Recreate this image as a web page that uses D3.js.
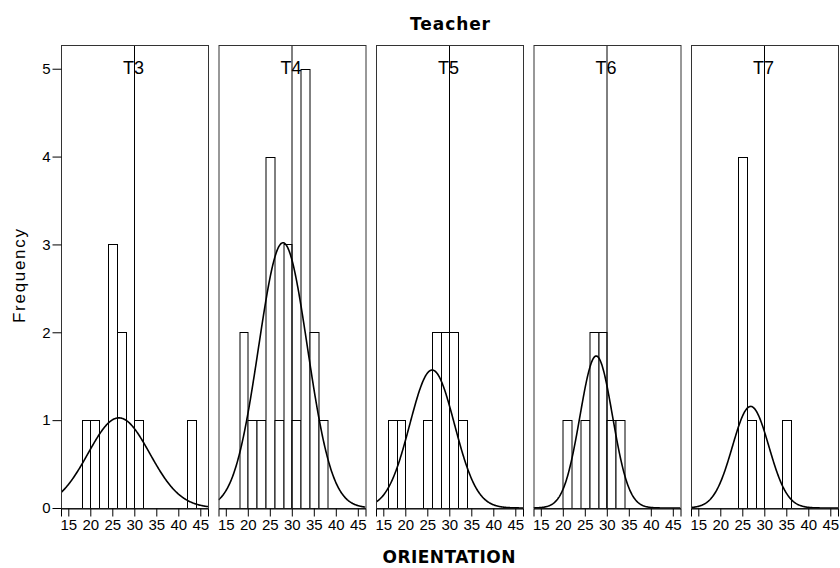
<!DOCTYPE html>
<html>
<head>
<meta charset="utf-8">
<script src="https://cdn.jsdelivr.net/npm/d3@7"></script>
<style>
  html, body { margin: 0; padding: 0; background: #fff; }
  svg { display: block; }
  text { font-family: "Liberation Sans", Arial, sans-serif; fill: #000; }
</style>
</head>
<body>
<svg id="chart" width="840" height="568"></svg>
<script>
// Panels (one per teacher) and the histogram bins (width 2) of ORIENTATION
const teachers = ["T3", "T4", "T5", "T6", "T7"];
const binStarts = [16, 18, 20, 22, 24, 26, 28, 30, 32, 34, 36, 38, 40, 42];
const binWidth = 2;

// Frequencies per bin for each teacher
const countsT3 = [0, 1, 1, 0, 3, 2, 0, 1, 0, 0, 0, 0, 0, 1];
const countsT4 = [0, 2, 1, 1, 4, 1, 3, 1, 5, 2, 1, 0, 0, 0];
const countsT5 = [1, 1, 0, 0, 1, 2, 2, 2, 1, 0, 0, 0, 0, 0];
const countsT6 = [0, 0, 1, 0, 1, 2, 2, 1, 1, 0, 0, 0, 0, 0];
const countsT7 = [0, 0, 0, 0, 4, 1, 0, 0, 0, 1, 0, 0, 0, 0];
const countsByTeacher = [countsT3, countsT4, countsT5, countsT6, countsT7];

// Fitted normal curve parameters per teacher
const means = [26.5, 28.0, 26.1, 27.6, 26.9];
const sds = [7.0, 5.55, 5.08, 3.69, 4.14];

// Axis ticks and the reference line
const xTicks = [15, 20, 25, 30, 35, 40, 45];
const yTicks = [0, 1, 2, 3, 4, 5];
const refValue = 30;

const svg = d3.select("#chart");

const panelLeft = 61, panelStep = 157.5, panelW = 147;
const panelTop = 45, panelBottom = 508;
const panelH = panelBottom - panelTop;

const x = d3.scaleLinear().domain([13.34, 46.75]).range([0, panelW]);
const y = d3.scaleLinear().domain([0, 5.27]).range([panelH, 0]);

svg.append("rect").attr("width", 840).attr("height", 568).attr("fill", "#fff");

teachers.forEach((t, i) => {
  const gx = panelLeft + i * panelStep;
  const g = svg.append("g").attr("transform", `translate(${gx},${panelTop})`);
  const counts = countsByTeacher[i];
  const n = d3.sum(counts);
  const bins = binStarts.map((b, k) => ({ x0: b, x1: b + binWidth, c: counts[k] })).filter(d => d.c > 0);

  const clipId = "clip" + i;
  g.append("clipPath").attr("id", clipId)
    .append("rect").attr("width", panelW).attr("height", panelH);

  // Histogram bars
  g.selectAll("rect.bar").data(bins).join("rect")
    .attr("class", "bar")
    .attr("x", d => Math.round(x(d.x0)) + 0.5)
    .attr("y", d => Math.round(y(d.c)) + 0.5)
    .attr("width", d => Math.round(x(d.x1)) - Math.round(x(d.x0)))
    .attr("height", d => Math.round(y(0)) - Math.round(y(d.c)))
    .attr("fill", "#fff")
    .attr("stroke", "#000")
    .attr("stroke-width", 1);

  // Reference line
  g.append("line")
    .attr("x1", Math.round(x(refValue)) + 0.5).attr("x2", Math.round(x(refValue)) + 0.5)
    .attr("y1", 0).attr("y2", panelH)
    .attr("stroke", "#000").attr("stroke-width", 1);

  // Normal curve scaled to frequency
  const mu = means[i], sd = sds[i];
  const pts = d3.range(0, 301).map(k => {
    const v = x.domain()[0] + (x.domain()[1] - x.domain()[0]) * k / 300;
    const f = n * binWidth * Math.exp(-0.5 * ((v - mu) / sd) ** 2) / (sd * Math.sqrt(2 * Math.PI));
    return [v, f];
  });
  g.append("path")
    .attr("clip-path", `url(#${clipId})`)
    .attr("d", d3.line().x(d => x(d[0])).y(d => y(d[1]))(pts))
    .attr("fill", "none").attr("stroke", "#000").attr("stroke-width", 1.6);

  // Panel frame
  g.append("rect")
    .attr("x", 0.5).attr("y", 0.5).attr("width", panelW).attr("height", panelH)
    .attr("fill", "none").attr("stroke", "#333").attr("stroke-width", 1);

  // Panel label
  g.append("text")
    .attr("x", panelW / 2 - 1).attr("y", 29)
    .attr("text-anchor", "middle")
    .style("font-size", "18px")
    .text(t);

  // X axis
  const xAxis = g.append("g").attr("transform", `translate(0,${panelH + 0.5})`)
    .call(d3.axisBottom(x).tickValues(xTicks).tickSize(8).tickPadding(3).tickFormat(d3.format("d")));
  xAxis.select(".domain").attr("stroke", "#000");
  xAxis.selectAll(".tick line").attr("stroke", "#000");
  xAxis.selectAll(".tick text").style("font-size", "15px")
    .attr("font-family", null).attr("fill", "#000");

  if (i === 0) {
    const yAxis = g.append("g").attr("transform", "translate(0.5,0)")
      .call(d3.axisLeft(y).tickValues(yTicks).tickSize(9).tickPadding(2).tickFormat(d3.format("d")));
    yAxis.select(".domain").remove();
    yAxis.selectAll(".tick line").attr("stroke", "#000");
    yAxis.selectAll(".tick text").style("font-size", "15px")
      .attr("font-family", null).attr("fill", "#000");
  }
});

// Titles
svg.append("text")
  .attr("x", 450).attr("y", 30)
  .attr("text-anchor", "middle")
  .attr("textLength", 80).attr("lengthAdjust", "spacing")
  .style("font-family", "'DejaVu Sans', sans-serif")
  .style("font-weight", "bold").style("font-size", "17px")
  .text("Teacher");

svg.append("text")
  .attr("x", 449).attr("y", 563)
  .attr("text-anchor", "middle")
  .attr("textLength", 133).attr("lengthAdjust", "spacing")
  .style("font-family", "'DejaVu Sans', sans-serif")
  .style("font-weight", "bold").style("font-size", "17px")
  .text("ORIENTATION");

svg.append("text")
  .attr("transform", "translate(25,276) rotate(-90)")
  .attr("text-anchor", "middle")
  .attr("textLength", 94).attr("lengthAdjust", "spacing")
  .style("font-size", "17px")
  .text("Frequency");
</script>
</body>
</html>
